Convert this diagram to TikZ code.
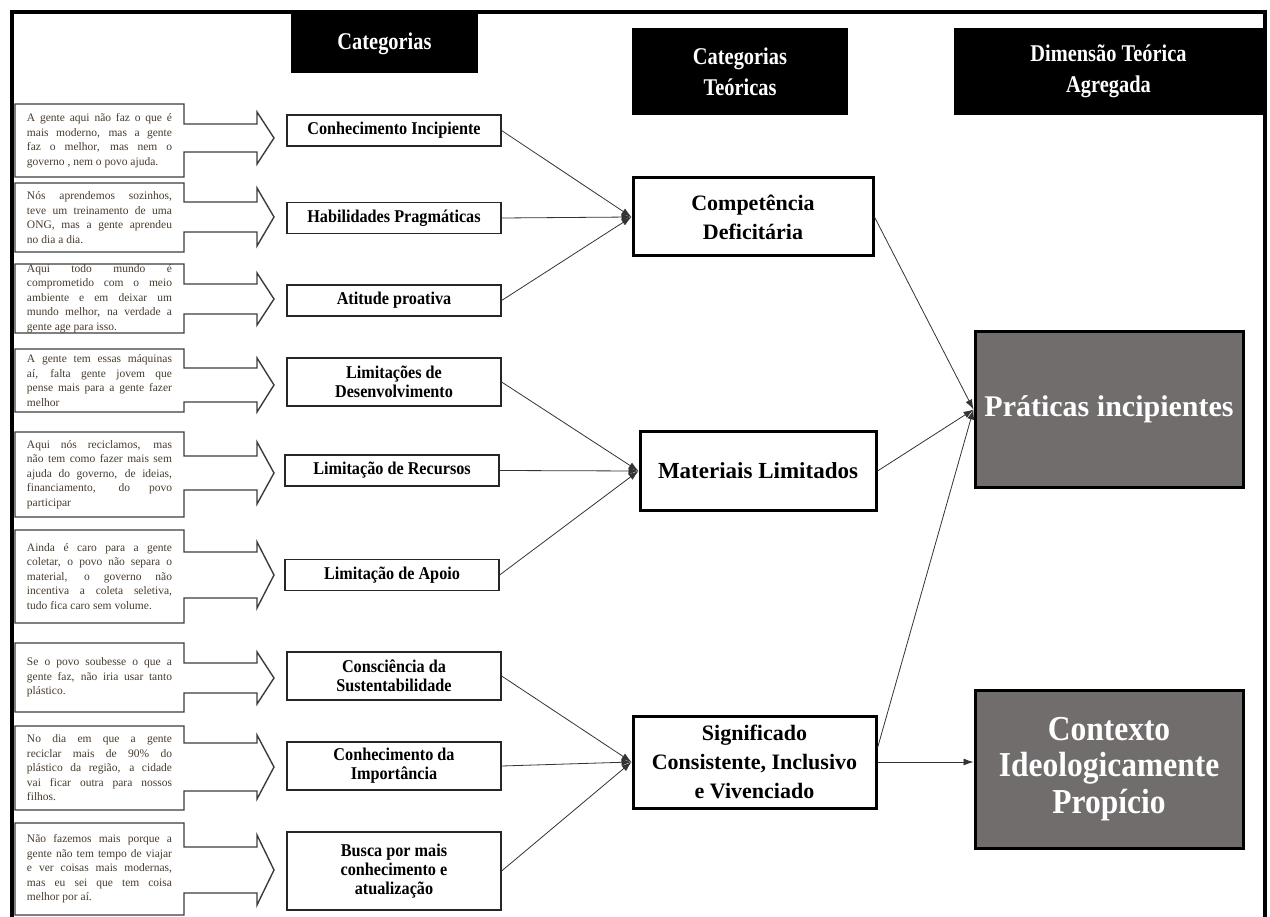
\documentclass[tikz,border=0pt]{standalone}
\usepackage{fontspec}
\setmainfont{Liberation Serif}
\newfontfamily\headfont{Liberation Serif}[FakeStretch=0.85]
\newfontfamily\labelfont{Liberation Serif}[FakeStretch=0.9]
\usetikzlibrary{arrows.meta, positioning}
\definecolor{quotetext}{RGB}{72,60,45}
\definecolor{quoteline}{RGB}{60,60,60}
\definecolor{dimfill}{RGB}{113,109,108}

\tikzset{
  header/.style={fill=black, text=white, align=center, inner sep=0pt,
    font=\headfont\bfseries\fontsize{24}{31}\selectfont},
  quote/.style={text width=145pt, align=justify, inner sep=0pt, text=quotetext,
    font=\fontsize{11.5}{14.5}\selectfont},
  quoteshape/.style={draw=quoteline, line width=1.4pt, fill=white},
  catbox/.style={draw=black!85, line width=1.2pt, minimum width=214pt, align=center,
    inner sep=0pt, font=\labelfont\bfseries\fontsize{18}{19}\selectfont},
  teobox/.style={draw, line width=3pt, align=center, inner sep=0pt,
    font=\bfseries\fontsize{22}{29}\selectfont},
  dimbox/.style={draw, line width=3pt, fill=dimfill, text=white, align=center,
    minimum width=268pt, inner sep=0pt},
  link/.style={draw=black!80, line width=0.8pt, -{Latex[length=10pt,width=7pt]}},
}

\begin{document}
\begin{tikzpicture}[x=1pt,y=-1pt]
\useasboundingbox (0,0) rectangle (1270,917);

% headers
\node[header, minimum width=187pt, minimum height=59pt] (hcat) at (384.5,43.5) {Categorias};
\node[header, minimum width=216pt, minimum height=87pt] (hteo) at (740,71.5) {Categorias\\Teóricas};
\node[header, minimum width=309pt, minimum height=87pt] (hdim) at (1108.5,71.5) {Dimensão Teórica\\Agregada};

% quotes with arrow
\foreach \t/\b/\c/\s/\h/\txt [count=\i] in {
  104/177/138/14/26/{A gente aqui não faz o que é\linebreak mais moderno, mas a gente\linebreak faz o melhor, mas nem o\linebreak governo , nem o povo ajuda.},
  183/252/217/15/29/{Nós aprendemos sozinhos,\linebreak teve um treinamento de uma\linebreak ONG, mas a gente aprendeu\linebreak no dia a dia.},
  264/333/299/15/26/{Aqui todo mundo é\linebreak comprometido com o meio\linebreak ambiente e em deixar um\linebreak mundo melhor, na verdade a\linebreak gente age para isso.},
  349/412/385/17/27/{A gente tem essas máquinas\linebreak aí, falta gente jovem que\linebreak pense mais para a gente fazer\linebreak melhor},
  432/517/473/17/31/{Aqui nós reciclamos, mas\linebreak não tem como fazer mais sem\linebreak ajuda do governo, de ideias,\linebreak financiamento, do povo\linebreak participar},
  530/623/575/23/33/{Ainda é caro para a gente\linebreak coletar, o povo não separa o\linebreak material, o governo não\linebreak incentiva a coleta seletiva,\linebreak tudo fica caro sem volume.},
  643/712/678/15/26/{Se o povo soubesse o que a\linebreak gente faz, não iria usar tanto\linebreak plástico.},
  726/810/767/24/32/{No dia em que a gente\linebreak reciclar mais de 90\% do\linebreak plástico da região, a cidade\linebreak vai ficar outra para nossos\linebreak filhos.},
  823/915/870/23/35/{Não fazemos mais porque a\linebreak gente não tem tempo de viajar\linebreak e ver coisas mais modernas,\linebreak mas eu sei que tem coisa\linebreak melhor por aí.}}
{
  \draw[quoteshape] (15,\t) -- (184,\t) -- (184,{\c-\s}) -- (257,{\c-\s}) -- (257,{\c-\h})
    -- (274,\c) -- (257,{\c+\h}) -- (257,{\c+\s}) -- (184,{\c+\s}) -- (184,\b) -- (15,\b) -- cycle;
  \node[quote] (q\i) at (99.5,{(\t+\b)/2}) {\txt};
}

% categorias
\node[catbox, minimum height=31pt] (c1) at (394,130.5) {Conhecimento Incipiente};
\node[catbox, minimum height=31pt] (c2) at (394,218) {Habilidades Pragmáticas};
\node[catbox, minimum height=31pt] (c3) at (394,300.5) {Atitude proativa};
\node[catbox, minimum height=48pt] (c4) at (394,382) {Limitações de\\Desenvolvimento};
\node[catbox, minimum height=31pt] (c5) at (392,470.5) {Limitação de Recursos};
\node[catbox, minimum height=31pt] (c6) at (392,575) {Limitação de Apoio};
\node[catbox, minimum height=48pt] (c7) at (394,676) {Consciência da\\Sustentabilidade};
\node[catbox, minimum height=48pt] (c8) at (394,766) {Conhecimento da\\Importância};
\node[catbox, minimum height=78pt] (c9) at (394,871) {Busca por mais\\conhecimento e\\atualização};

% categorias teoricas
\node[teobox, minimum width=240pt, minimum height=78pt] (comp) at (753,217) {Competência\\Deficitária};
\node[teobox, minimum width=236pt, minimum height=78pt, font=\bfseries\fontsize{23}{29}\selectfont] (mat) at (758,471) {Materiais Limitados};
\node[teobox, minimum width=243pt, minimum height=92pt] (sig) at (754.5,762) {Significado\\Consistente, Inclusivo\\e Vivenciado};

% dimensoes
\node[dimbox, minimum height=155pt, font=\bfseries\fontsize{30}{36}\selectfont] (prat) at (1109,409.5) {Práticas incipientes};
\node[dimbox, minimum height=158pt, font=\labelfont\bfseries\fontsize{35}{36.5}\selectfont] (ctx) at (1109,769) {Contexto\\Ideologicamente\\Propício};

% ligacoes
\foreach \n in {c1,c2,c3} \draw[link] (\n.east) -- (comp.west);
\foreach \n in {c4,c5,c6} \draw[link] (\n.east) -- (mat.west);
\foreach \n in {c7,c8,c9} \draw[link] (\n.east) -- (sig.west);
\draw[link] (comp.east) -- (prat.west);
\draw[link] (mat.east) -- (prat.west);
\draw[link] ([yshift=14pt]sig.east) -- (prat.west);
\draw[link] (sig.east) -- (sig.east -| ctx.west);

% moldura
\draw[line width=4.5pt] (12,940) -- (12,12) -- (1265,12) -- (1265,940);
\end{tikzpicture}
\end{document}
